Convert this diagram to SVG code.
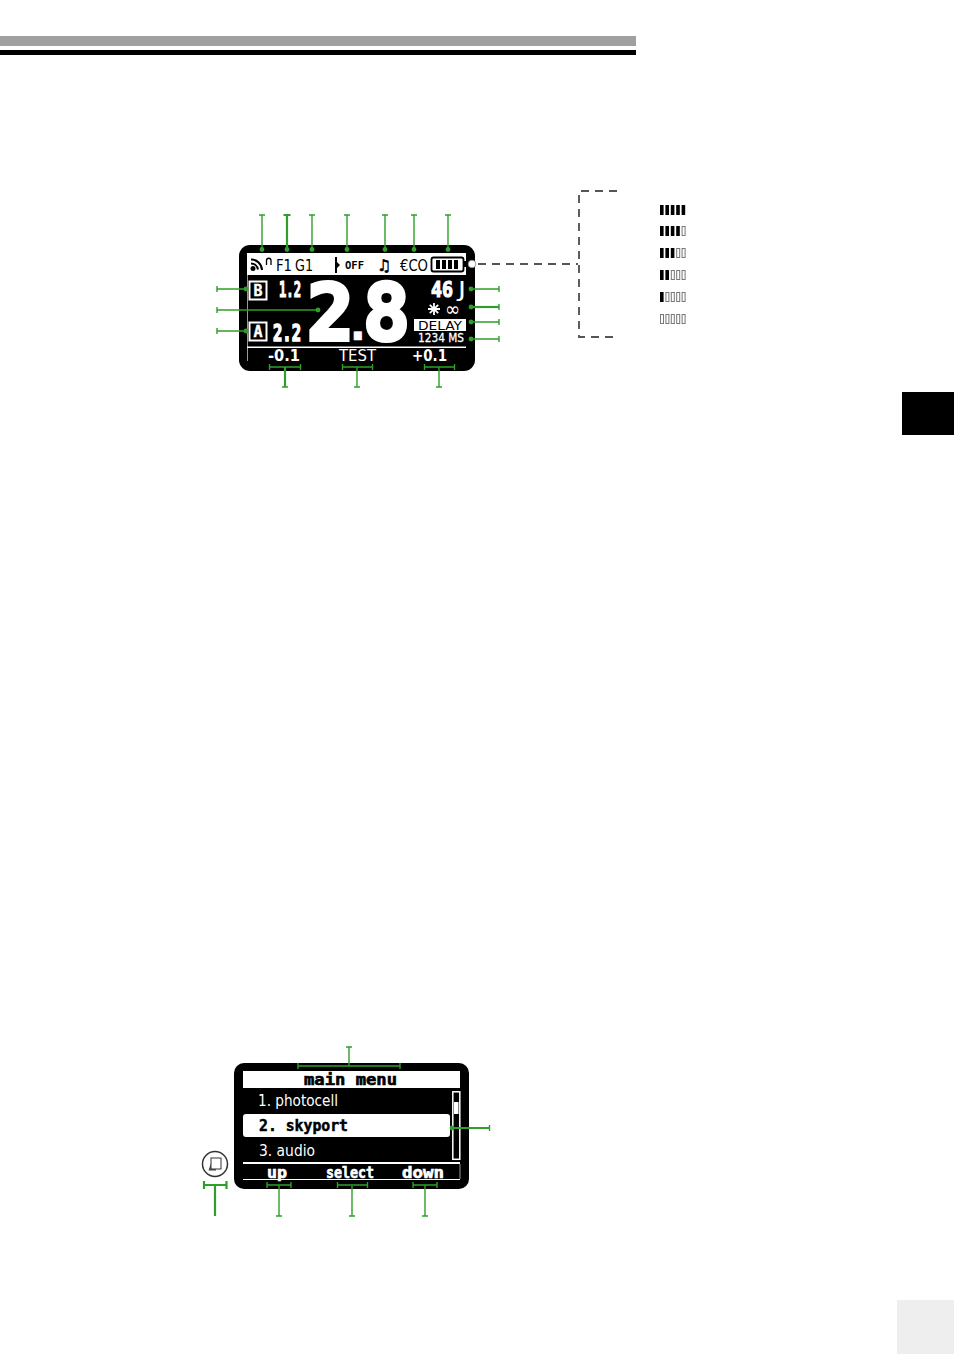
<svg xmlns="http://www.w3.org/2000/svg" width="954" height="1354" viewBox="0 0 954 1354">
<style>
.g{stroke:#2f9e2a;stroke-width:1.4;fill:none}
.gt{stroke:#2f9e2a;stroke-width:2.2;fill:none}
.d{fill:#2f9e2a}
.w{fill:#fff}
.k{fill:#000}
.m{font-family:"DejaVu Sans Mono",monospace;font-weight:700}
.s{font-family:"DejaVu Sans",sans-serif}
.b{font-family:"DejaVu Sans",sans-serif;font-weight:700}
.c{stroke:#555;stroke-width:1.9;fill:none;stroke-dasharray:8 6}
</style>
<defs>
<g id="f"><rect width="3.6" height="10" fill="#000"/></g>
<g id="e"><rect x=".5" y=".5" width="3" height="9" fill="#fff" stroke="#777" stroke-width="1"/></g>
</defs>
<rect width="954" height="1354" fill="#fff"/>
<g id="page">
<rect x="0" y="36" width="636" height="10" fill="#a0a0a0"/>
<rect x="0" y="50" width="636" height="5" fill="#000"/>
<rect x="902" y="392" width="52" height="43" fill="#000"/>
<rect x="897" y="1300" width="57" height="54" fill="#eee"/>
</g>
<g id="screen-main">
<rect x="239" y="245" width="236" height="126" rx="11" class="k"/>
<rect x="247" y="253" width="219" height="22" class="w"/>
<rect x="247" y="275" width="1" height="86" fill="#999"/>
<g id="status-icons">
<circle cx="253" cy="268.500" r="2.500" class="k"/>
<path d="M251 263.500a7 7 0 0 1 7 6M251 259.500a11 11 0 0 1 11 10.500" fill="none" stroke="#000" stroke-width="2"/>
<path d="M266.500 265v-4.500a2 2 0 0 1 4.500 0v4.500" fill="none" stroke="#000" stroke-width="1.300"/>
<polygon points="335,257 337,257 337,262 340,265 337,268 337,273 335,273" class="k"/>
<rect x="431.500" y="257.500" width="32" height="14" rx="2" fill="#fff" stroke="#000" stroke-width="1.800"/>
<rect x="464" y="261" width="2" height="6" class="k"/>
<rect x="436" y="260" width="4" height="9" class="k"/><rect x="442" y="260" width="4" height="9" class="k"/><rect x="448" y="260" width="4" height="9" class="k"/><rect x="454" y="260" width="4" height="9" class="k"/>
</g>
<text x="276" y="270.500" class="s" font-size="16" textLength="16" lengthAdjust="spacingAndGlyphs">F1</text>
<text x="295" y="270.500" class="s" font-size="16" textLength="18" lengthAdjust="spacingAndGlyphs">G1</text>
<text x="345" y="268.500" class="m" font-size="11" textLength="19" lengthAdjust="spacingAndGlyphs">OFF</text>
<text x="377" y="271" class="b" font-size="16" stroke="#000" stroke-width=".5" textLength="14" lengthAdjust="spacingAndGlyphs">♫</text>
<text x="400" y="270.500" class="s" font-size="15" textLength="28" lengthAdjust="spacingAndGlyphs">€CO</text>
<rect x="249.500" y="281.500" width="17" height="18" fill="#000" stroke="#fff" stroke-width="2"/>
<text x="258" y="296" class="m w" font-size="15" stroke="#fff" stroke-width=".4" text-anchor="middle">B</text>
<rect x="249.500" y="322.500" width="17" height="18" fill="#000" stroke="#fff" stroke-width="2"/>
<text x="258" y="337" class="m w" font-size="15" stroke="#fff" stroke-width=".4" text-anchor="middle">A</text>
<text x="279" y="297" class="m w" font-size="22" stroke="#fff" stroke-width="1.200" textLength="22" lengthAdjust="spacingAndGlyphs">1.2</text>
<text x="273" y="341" class="m w" font-size="23" stroke="#fff" stroke-width="1.600" textLength="28" lengthAdjust="spacingAndGlyphs">2.2</text>
<text y="339.500" class="m w" stroke="#fff" stroke-linejoin="miter"><tspan x="307" font-size="78" stroke-width="4">2</tspan><tspan x="344" font-size="46" stroke-width=".6">.</tspan><tspan x="363" font-size="78" stroke-width="4">8</tspan></text>
<text x="431" y="297" class="m w" font-size="22" stroke="#fff" stroke-width="1.200" textLength="22" lengthAdjust="spacingAndGlyphs">46</text>
<text x="458" y="297" class="s w" font-size="21" textLength="8" lengthAdjust="spacingAndGlyphs">J</text>
<path d="M434 303v12M428 309h12M429.800 304.800l8.400 8.400M429.800 313.200l8.400-8.400" stroke="#fff" stroke-width="1.800" fill="none"/>
<text x="445" y="315.500" class="s w" font-size="20" textLength="15" lengthAdjust="spacingAndGlyphs">∞</text>
<rect x="414" y="319" width="52" height="12" class="w"/>
<text x="418" y="330" class="s k" font-size="13" textLength="44" lengthAdjust="spacingAndGlyphs">DELAY</text>
<text x="418" y="341.500" class="s w" font-size="12" stroke="#fff" stroke-width=".3" textLength="46" lengthAdjust="spacingAndGlyphs">1234 MS</text>
<rect x="247" y="346.500" width="219" height="1.500" class="w"/>
<text x="268" y="361" class="b w" font-size="15" textLength="32" lengthAdjust="spacingAndGlyphs">-0.1</text>
<text x="339" y="361" class="s w" font-size="16" textLength="37" lengthAdjust="spacingAndGlyphs">TEST</text>
<text x="412" y="361" class="b w" font-size="15" textLength="35" lengthAdjust="spacingAndGlyphs">+0.1</text>
</g>
<g id="battery-connector">
<circle cx="472" cy="264" r="3.800" fill="#fff" stroke="#888" stroke-width=".8"/>
<path class="c" d="M478 264H578"/>
<path class="c" d="M617 191H579V337H617"/>
</g>
<g id="battery-levels">
<g id="lvl5" transform="translate(660 205)"><use href="#f"/><use href="#f" x="5.400"/><use href="#f" x="10.800"/><use href="#f" x="16.200"/><use href="#f" x="21.600"/></g>
<g id="lvl4" transform="translate(660 226)"><use href="#f"/><use href="#f" x="5.400"/><use href="#f" x="10.800"/><use href="#f" x="16.200"/><use href="#e" x="21.600"/></g>
<g id="lvl3" transform="translate(660 248)"><use href="#f"/><use href="#f" x="5.400"/><use href="#f" x="10.800"/><use href="#e" x="16.200"/><use href="#e" x="21.600"/></g>
<g id="lvl2" transform="translate(660 270)"><use href="#f"/><use href="#f" x="5.400"/><use href="#e" x="10.800"/><use href="#e" x="16.200"/><use href="#e" x="21.600"/></g>
<g id="lvl1" transform="translate(660 292)"><use href="#f"/><use href="#e" x="5.400"/><use href="#e" x="10.800"/><use href="#e" x="16.200"/><use href="#e" x="21.600"/></g>
<g id="lvl0" transform="translate(660 314)"><use href="#e"/><use href="#e" x="5.400"/><use href="#e" x="10.800"/><use href="#e" x="16.200"/><use href="#e" x="21.600"/></g>
</g>
<g id="screen-menu">
<rect x="234" y="1063" width="235" height="126" rx="10" class="k"/>
<rect x="243" y="1071" width="217" height="17" class="w"/>
<text x="304" y="1085" class="m k" font-size="15" stroke="#000" stroke-width=".6" textLength="93" lengthAdjust="spacingAndGlyphs">main menu</text>
<text x="258" y="1106" class="s w" font-size="16" textLength="80" lengthAdjust="spacingAndGlyphs">1. photocell</text>
<rect x="243" y="1114" width="207" height="23" rx="3" class="w"/>
<text x="259" y="1131" class="m k" font-size="16" stroke="#000" stroke-width=".5" textLength="89" lengthAdjust="spacingAndGlyphs">2. skyport</text>
<text x="259" y="1156" class="s w" font-size="16" textLength="56" lengthAdjust="spacingAndGlyphs">3. audio</text>
<rect x="452.800" y="1091.800" width="7" height="67.500" fill="#000" stroke="#fff" stroke-width="1.500"/>
<rect x="454" y="1102" width="4.500" height="12" class="w"/>
<rect x="243" y="1162" width="217" height="2" class="w"/>
<rect x="243" y="1179" width="217" height="1" class="w"/>
<rect x="459.500" y="1164" width="1" height="15" fill="#999"/>
<text x="267" y="1177.500" class="m w" font-size="15" stroke="#fff" stroke-width=".6" textLength="20" lengthAdjust="spacingAndGlyphs">up</text>
<text x="326" y="1177.500" class="m w" font-size="15" stroke="#fff" stroke-width=".6" textLength="48" lengthAdjust="spacingAndGlyphs">select</text>
<text x="402" y="1177.500" class="m w" font-size="15" stroke="#fff" stroke-width=".6" textLength="42" lengthAdjust="spacingAndGlyphs">down</text>
</g>
<g id="menu-button">
<circle cx="215" cy="1164" r="12.500" fill="#fff" stroke="#333" stroke-width="1.500"/>
<rect x="211" y="1158" width="10" height="11" fill="#fff" stroke="#333" stroke-width="1"/>
<polygon points="211,1163 208.500,1170.500 216,1170.500 216,1169 211,1169" fill="#444"/>
</g>
<g id="connectors">
<path class="g" d="M262 215V250M259 215h6M312 215V250M309 215h6M347 215V250M344 215h6M385 215V250M382 215h6M414 215V250M411 215h6M448 215V250M445 215h6"/>
<path class="gt" d="M287 215V250M283.500 215h7"/>
<path class="g" d="M217 286V292M217 289H246M217 307V313M217 310H318M217 328V334M217 331H246"/>
<path class="g" d="M471 289H499M499 286V292M471 322H499M499 319V325M471 339H499M499 336V342"/>
<path class="gt" d="M471 307H499"/><path class="g" d="M499 304V310"/>
<path class="g" d="M269.500 364V370M269.500 367H300.500M300.500 364V370M342.500 364V370M342.500 367H372.500M372.500 364V370M424.500 364V370M424.500 367H454.500M454.500 364V370"/>
<path class="gt" d="M285 367V387"/><path class="g" d="M282 387h6M357 367V387M354 387h6M439 367V387M436 387h6"/>
<circle cx="262" cy="249.500" r="2.400" class="d"/><circle cx="287" cy="249.500" r="2.400" class="d"/><circle cx="312" cy="249.500" r="2.400" class="d"/><circle cx="347" cy="249.500" r="2.400" class="d"/><circle cx="385" cy="249.500" r="2.400" class="d"/><circle cx="414" cy="249.500" r="2.400" class="d"/><circle cx="448" cy="249.500" r="2.400" class="d"/>
<circle cx="246" cy="289" r="2.400" class="d"/><circle cx="318" cy="310" r="2.400" class="d"/><circle cx="246" cy="331" r="2.400" class="d"/>
<circle cx="471" cy="289" r="2.400" class="d"/><circle cx="471" cy="307" r="2.400" class="d"/><circle cx="471" cy="322" r="2.400" class="d"/><circle cx="471" cy="339" r="2.400" class="d"/>
<path class="g" d="M298 1063V1069M298 1066H400M400 1063V1069M349 1066V1047M346 1047h6"/>
<path class="gt" d="M452 1128H489"/><path class="g" d="M489.500 1125V1131"/>
<circle cx="452" cy="1128" r="2.400" class="d"/>
<path class="g" d="M267 1182V1188M267 1185H291M291 1182V1188M279 1185V1216M276 1216h6M337.500 1182V1188M337.500 1185H367.500M367.500 1182V1188M352 1185V1216M349 1216h6M413 1182V1188M413 1185H437M437 1182V1188M425 1185V1216M422 1216h6"/>
<path class="gt" d="M204 1181V1189M204 1185H226.500M226.500 1181V1189M215 1185V1216"/>
</g>
</svg>
